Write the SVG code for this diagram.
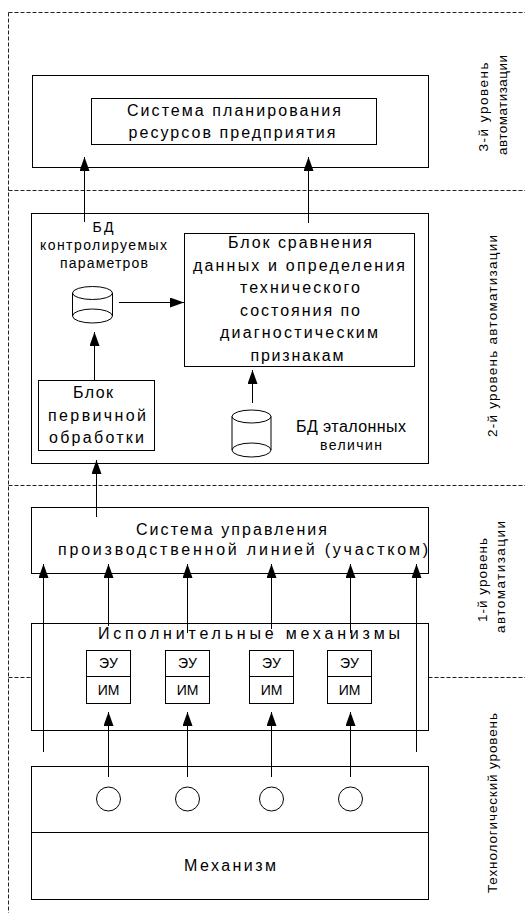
<svg xmlns="http://www.w3.org/2000/svg" width="525" height="915" viewBox="0 0 525 915">
<style>
  .box { fill: #fff; stroke: #000; stroke-width: 1; }
  .ln { fill: none; stroke: #000; stroke-width: 1; }
  .dash { fill: none; stroke: #222; stroke-width: 1; stroke-dasharray: 4 2; }
  text { font-family: "Liberation Sans", Arial, sans-serif; fill: #000; }
  .t15 { font-size: 16px; text-anchor: middle; }
  .t13 { font-size: 14px; text-anchor: middle; }
  .v { font-size: 13.5px; text-anchor: middle; }
</style>
<defs>
  <marker id="ah" viewBox="0 0 14 10" refX="14" refY="5" markerWidth="14" markerHeight="10" markerUnits="userSpaceOnUse" orient="auto">
    <path d="M0,0 L14,5 L0,10 Z" fill="#000"/>
  </marker>
</defs>
<rect width="525" height="915" fill="#fff"/>

<g id="levels">
  <path class="dash" d="M8.5,12.5 H525 M8.5,190.5 H525 M8.5,485.5 H525 M8.5,677.5 H525 M8.5,12.5 V913"/>
  <text class="v" transform="translate(488,107) rotate(-90)" textLength="89" lengthAdjust="spacing">3-й уровень</text>
  <text class="v" transform="translate(507,105) rotate(-90)" textLength="100" lengthAdjust="spacing">автоматизации</text>
  <text class="v" transform="translate(497,336) rotate(-90)" textLength="202" lengthAdjust="spacing">2-й уровень автоматизации</text>
  <text class="v" transform="translate(487,580) rotate(-90)" textLength="84" lengthAdjust="spacing">1-й уровень</text>
  <text class="v" transform="translate(505,577) rotate(-90)" textLength="112" lengthAdjust="spacing">автоматизации</text>
  <text class="v" transform="translate(497,803) rotate(-90)" textLength="180" lengthAdjust="spacing">Технологический уровень</text>
</g>

<g id="level3">
  <rect class="box" x="32.5" y="75.5" width="396" height="92"/>
</g>
<g id="erp">
  <rect class="box" x="91.5" y="98.5" width="285" height="46"/>
  <text class="t15" x="234" y="115.5" textLength="214" lengthAdjust="spacing">Система планирования</text>
  <text class="t15" x="232" y="137.5" textLength="207" lengthAdjust="spacing">ресурсов предприятия</text>
</g>

<g id="level2">
  <rect class="box" x="31.5" y="213.5" width="397" height="250"/>
</g>
<g id="db-controlled">
  <text class="t13" x="103" y="232" textLength="21" lengthAdjust="spacing">БД</text>
  <text class="t13" x="103.5" y="250" textLength="127" lengthAdjust="spacing">контролируемых</text>
  <text class="t13" x="104" y="268" textLength="88" lengthAdjust="spacing">параметров</text>
  <path class="ln" d="M72.5,293 V316 M112.5,293 V316"/>
  <ellipse class="ln" cx="92.5" cy="293" rx="20" ry="6.5"/>
  <ellipse class="ln" cx="92.5" cy="316" rx="20" ry="7"/>
</g>
<g id="compare">
  <rect class="box" x="184.5" y="233.5" width="230" height="133"/>
  <text class="t15" x="300" y="248" textLength="144" lengthAdjust="spacing">Блок сравнения</text>
  <text class="t15" x="299" y="270.5" textLength="212" lengthAdjust="spacing">данных и определения</text>
  <text class="t15" x="300" y="293" textLength="120" lengthAdjust="spacing">технического</text>
  <text class="t15" x="300" y="315.5" textLength="120" lengthAdjust="spacing">состояния по</text>
  <text class="t15" x="299" y="338" textLength="158" lengthAdjust="spacing">диагностическим</text>
  <text class="t15" x="297" y="360.5" textLength="93" lengthAdjust="spacing">признакам</text>
</g>
<g id="primary">
  <rect class="box" x="38.5" y="380.5" width="116" height="70"/>
  <text class="t15" x="93" y="398" textLength="40" lengthAdjust="spacing">Блок</text>
  <text class="t15" x="97" y="421" textLength="98" lengthAdjust="spacing">первичной</text>
  <text class="t15" x="96.5" y="443" textLength="95" lengthAdjust="spacing">обработки</text>
</g>
<g id="db-reference">
  <path class="ln" d="M232,416.5 V450 M271,416.5 V450"/>
  <ellipse class="ln" cx="251.5" cy="416.5" rx="19.5" ry="6.5"/>
  <ellipse class="ln" cx="251.5" cy="450" rx="19.5" ry="7"/>
  <text class="t15" x="351" y="432" textLength="110" lengthAdjust="spacing">БД эталонных</text>
  <text class="t13" x="351" y="450" textLength="62" lengthAdjust="spacing">величин</text>
</g>

<g id="line-control">
  <rect class="box" x="31.5" y="507.5" width="397" height="66"/>
  <text class="t15" x="231.5" y="535" textLength="191" lengthAdjust="spacing">Система управления</text>
  <text class="t15" x="243" y="555" textLength="370" lengthAdjust="spacing">производственной линией (участком)</text>
</g>

<g id="actuators">
  <rect class="box" x="31.5" y="623.5" width="397" height="107"/>
  <text class="t15" x="249" y="639" textLength="302" lengthAdjust="spacing">Исполнительные механизмы</text>
</g>
<g id="unit1">
  <rect class="box" x="86.5" y="650.5" width="44" height="26"/>
  <rect class="box" x="86.5" y="676.5" width="44" height="27"/>
  <text class="t13" x="108.5" y="668">ЭУ</text>
  <text class="t13" x="108.5" y="694.5">ИМ</text>
</g>
<g id="unit2">
  <rect class="box" x="165.5" y="650.5" width="44" height="26"/>
  <rect class="box" x="165.5" y="676.5" width="44" height="27"/>
  <text class="t13" x="187.5" y="668">ЭУ</text>
  <text class="t13" x="187.5" y="694.5">ИМ</text>
</g>
<g id="unit3">
  <rect class="box" x="249.5" y="650.5" width="44" height="26"/>
  <rect class="box" x="249.5" y="676.5" width="44" height="27"/>
  <text class="t13" x="271.5" y="668">ЭУ</text>
  <text class="t13" x="271.5" y="694.5">ИМ</text>
</g>
<g id="unit4">
  <rect class="box" x="327.5" y="650.5" width="44" height="26"/>
  <rect class="box" x="327.5" y="676.5" width="44" height="27"/>
  <text class="t13" x="349.5" y="668">ЭУ</text>
  <text class="t13" x="349.5" y="694.5">ИМ</text>
</g>

<g id="mechanism">
  <rect class="box" x="31.5" y="766.5" width="397" height="133"/>
  <path class="ln" d="M31.5,832.5 H428.5"/>
  <circle class="ln" cx="108.5" cy="799" r="12"/>
  <circle class="ln" cx="187.5" cy="799" r="12"/>
  <circle class="ln" cx="271.5" cy="799" r="12"/>
  <circle class="ln" cx="350.5" cy="799" r="12"/>
  <text class="t15" x="230" y="871" textLength="92" lengthAdjust="spacing">Механизм</text>
</g>

<g id="connectors">
  <path class="ln" d="M84.5,222 V157" marker-end="url(#ah)"/>
  <path class="ln" d="M308.5,223 V157" marker-end="url(#ah)"/>
  <path class="ln" d="M119,302.5 H184" marker-end="url(#ah)"/>
  <path class="ln" d="M94.5,380 V332" marker-end="url(#ah)"/>
  <path class="ln" d="M252.5,403 V370" marker-end="url(#ah)"/>
  <path class="ln" d="M96.5,517 V460" marker-end="url(#ah)"/>
  <path class="ln" d="M43.5,752 V564" marker-end="url(#ah)"/>
  <path class="ln" d="M416.5,752 V564" marker-end="url(#ah)"/>
  <path class="ln" d="M108.5,626 V564" marker-end="url(#ah)"/>
  <path class="ln" d="M187.5,633 V564" marker-end="url(#ah)"/>
  <path class="ln" d="M271.5,629 V564" marker-end="url(#ah)"/>
  <path class="ln" d="M350.5,633 V564" marker-end="url(#ah)"/>
  <path class="ln" d="M108.5,777 V712" marker-end="url(#ah)"/>
  <path class="ln" d="M187.5,777 V712" marker-end="url(#ah)"/>
  <path class="ln" d="M271.5,777 V712" marker-end="url(#ah)"/>
  <path class="ln" d="M350.5,777 V712" marker-end="url(#ah)"/>
</g>
</svg>
